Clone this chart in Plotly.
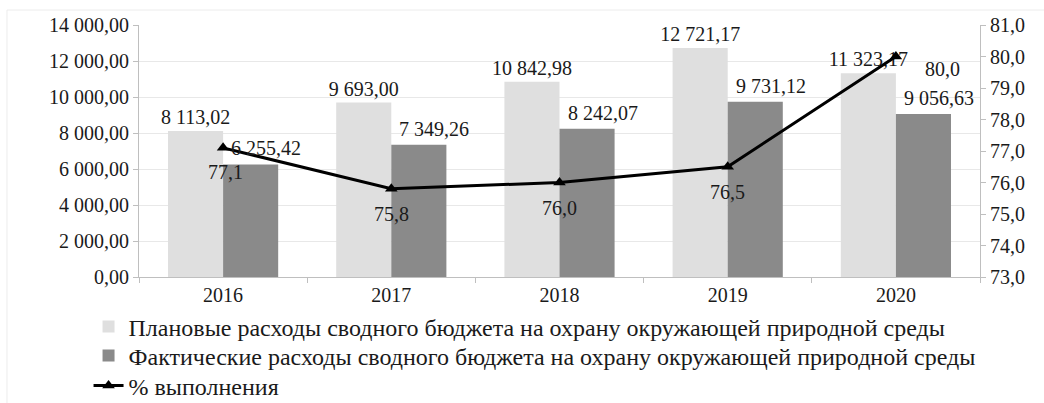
import plotly.graph_objects as go

years = ["2016", "2017", "2018", "2019", "2020"]
plan = [8113.02, 9693.00, 10842.98, 12721.17, 11323.17]
fact = [6255.42, 7349.26, 8242.07, 9731.12, 9056.63]
pct = [77.1, 75.8, 76.0, 76.5, 80.0]

name_plan = "Плановые расходы сводного бюджета на охрану окружающей природной среды"
name_fact = "Фактические расходы сводного бюджета на охрану окружающей природной среды"
name_pct = "% выполнения"

# label placement (style only, pixels)
FACT_DX, FACT_DY = 43, 16
PCT_DX = [2, 0, 0, 0, 47]
PCT_DY = [-24, -25, -25, -25, -12]

FONT = "Liberation Serif"
TXT = "#1a1a1a"

fig = go.Figure()
fig.add_trace(go.Bar(
    x=years, y=plan, name=name_plan, marker=dict(color="#dfdfdf", line=dict(width=0)),
    texttemplate="%{y:,.2f}", textposition="outside", cliponaxis=False, constraintext="none",
    textfont=dict(family=FONT, size=20, color=TXT), legend="legend",
))
fig.add_trace(go.Bar(
    x=years, y=fact, name=name_fact, marker=dict(color="#8a8a8a", line=dict(width=0)),
    legend="legend2",
))
fig.add_trace(go.Scatter(
    x=years, y=pct, name=name_pct, yaxis="y2", mode="lines+markers",
    line=dict(color="black", width=3),
    marker=dict(symbol="triangle-up", size=11, color="black"),
    cliponaxis=False, legend="legend3",
))

def fmt(v, dec):
    s = f"{v:,.{dec}f}"
    return s.replace(",", " ").replace(".", ",")

annotations = []
for i, v in enumerate(fact):
    annotations.append(dict(x=i, y=v, xref="x", yref="y", text=fmt(v, 2), showarrow=False,
                            xshift=FACT_DX, yshift=FACT_DY, xanchor="center", yanchor="middle",
                            font=dict(family=FONT, size=20, color=TXT)))
for i, (v, dx, dy) in enumerate(zip(pct, PCT_DX, PCT_DY)):
    annotations.append(dict(x=i, y=v, xref="x", yref="y2", text=fmt(v, 1), showarrow=False,
                            xshift=dx, yshift=dy, xanchor="center", yanchor="middle",
                            font=dict(family=FONT, size=20, color=TXT)))

leg_common = dict(orientation="v", x=-0.06, xanchor="left", yanchor="middle",
                  font=dict(family=FONT, size=24, color=TXT),
                  bgcolor="rgba(0,0,0,0)", itemwidth=30)

fig.update_layout(
    width=1044, height=403,
    margin=dict(l=139, r=64, t=25, b=126, autoexpand=False),
    paper_bgcolor="white", plot_bgcolor="white",
    separators=", ",
    barmode="group", bargap=0.345, bargroupgap=0,
    font=dict(family=FONT, size=20, color=TXT),
    showlegend=True,
    legend=dict(y=(277 - 327) / 252, **leg_common),
    legend2=dict(y=(277 - 356) / 252, **leg_common),
    legend3=dict(y=(277 - 386) / 252, **leg_common),
    xaxis=dict(
        type="category", categoryorder="array", categoryarray=years,
        range=[-0.5, len(years) - 0.5],
        showline=True, linecolor="#bfbfbf", linewidth=1,
        ticks="outside", tickson="boundaries", ticklen=5, tickcolor="#bfbfbf",
        tickfont=dict(family=FONT, size=20, color=TXT), showgrid=False,
    ),
    yaxis=dict(
        range=[0, 14000], dtick=2000, tickformat=",.2f",
        showline=True, linecolor="#bfbfbf", linewidth=1,
        ticks="outside", ticklen=5, tickcolor="#bfbfbf",
        showgrid=True, gridcolor="#e8e8e8", gridwidth=1, zeroline=False,
        tickfont=dict(family=FONT, size=20, color=TXT),
    ),
    yaxis2=dict(
        range=[73, 81], dtick=1, tickformat=".1f", overlaying="y", side="right",
        showline=True, linecolor="#bfbfbf", linewidth=1,
        ticks="outside", ticklen=5, tickcolor="#bfbfbf",
        showgrid=False, zeroline=False,
        tickfont=dict(family=FONT, size=20, color=TXT),
    ),
    annotations=annotations,
    shapes=[dict(type="rect", xref="paper", yref="paper",
                 x0=-0.157, x1=1.2, y0=-1.0, y1=1.0595,
                 line=dict(color="#ececec", width=1), fillcolor="rgba(0,0,0,0)", layer="below")],
)

fig.write_html("out.html", config={"displayModeBar": False},
               post_script="document.body.style.margin='0';document.body.style.overflow='hidden';")
